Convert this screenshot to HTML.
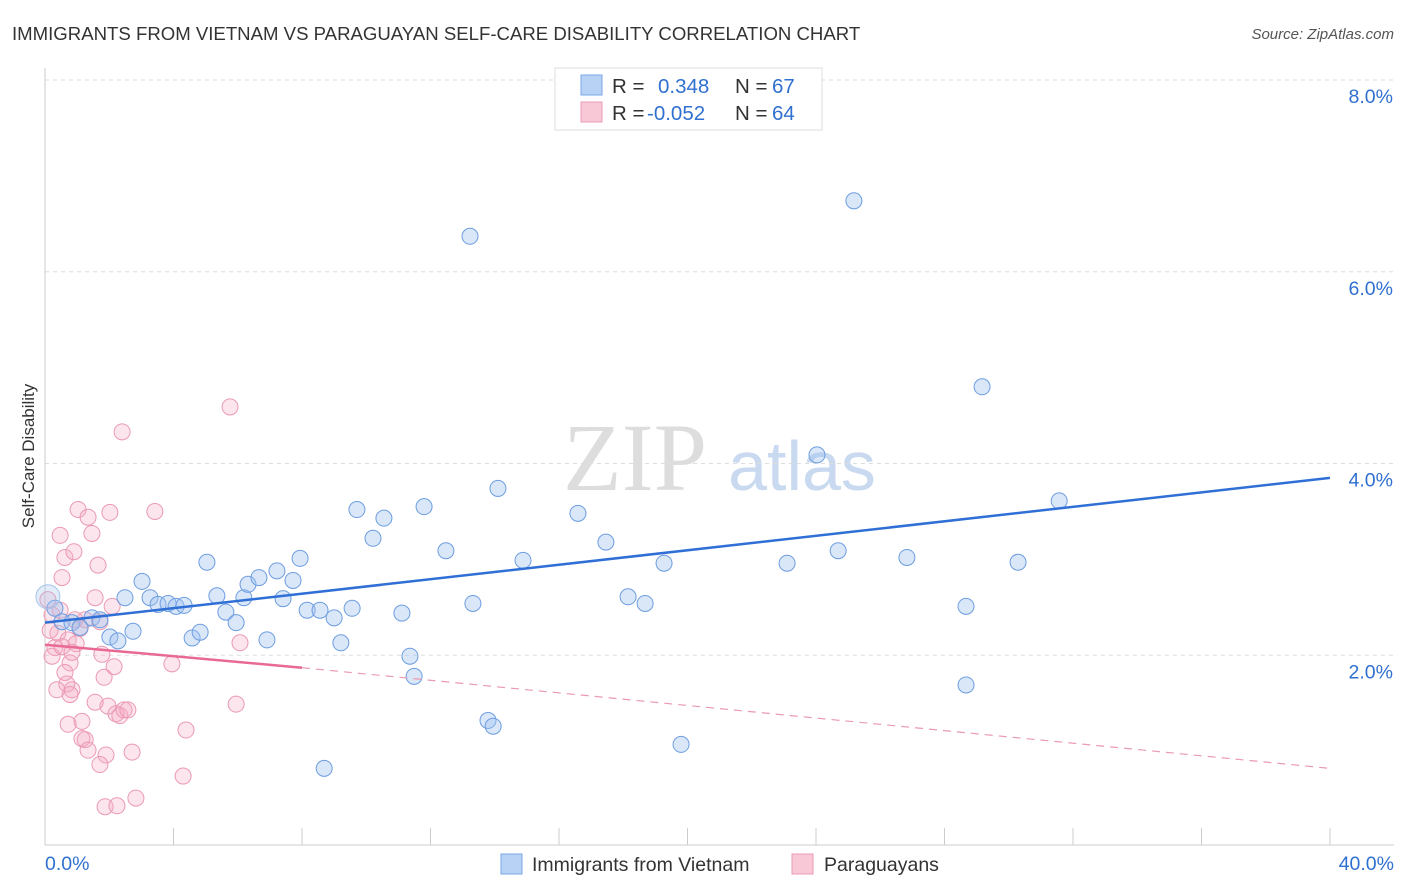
<!DOCTYPE html>
<html><head><meta charset="utf-8"><style>
body{margin:0;background:#fff;font-family:"Liberation Sans",sans-serif;}
svg{display:block}
</style></head><body>
<svg id="chart" width="1406" height="892" xmlns="http://www.w3.org/2000/svg">
<text x="12" y="40" font-size="18.6" fill="#333">IMMIGRANTS FROM VIETNAM VS PARAGUAYAN SELF-CARE DISABILITY CORRELATION CHART</text>
<text x="1394" y="39" font-size="15" fill="#555" font-style="italic" text-anchor="end">Source: ZipAtlas.com</text>
<text x="34" y="456" font-size="17" fill="#333" text-anchor="middle" transform="rotate(-90 34 456)">Self-Care Disability</text>
<g>
<text x="635" y="490" font-size="96" fill="#ddd" font-family="Liberation Serif,serif" text-anchor="middle">ZIP</text>
<text x="802" y="490" font-size="70" fill="#c8d9f0" text-anchor="middle">atlas</text>
</g>
<g id="grid"></g>
<g id="pts"></g>
<g id="lines"></g>
<g>
<rect x="555" y="68" width="267" height="62" fill="#fff" stroke="#ddd"/>
<rect x="581" y="75" width="21" height="20" fill="#b8d2f5" stroke="#7aa7e6"/>
<text x="612" y="93" font-size="20.5" fill="#333">R =</text>
<text x="658" y="93" font-size="20.5" fill="#3070d0">0.348</text>
<text x="735" y="93" font-size="20.5" fill="#333">N =</text>
<text x="772" y="93" font-size="20.5" fill="#3070d0">67</text>
<rect x="581" y="102" width="21" height="20" fill="#f8c8d6" stroke="#eb9ab3"/>
<text x="612" y="120" font-size="20.5" fill="#333">R =</text>
<text x="647" y="120" font-size="20.5" fill="#3070d0">-0.052</text>
<text x="735" y="120" font-size="20.5" fill="#333">N =</text>
<text x="772" y="120" font-size="20.5" fill="#3070d0">64</text>
</g>
<g>
<rect x="501" y="854" width="21" height="20" fill="#b8d2f5" stroke="#7aa7e6"/>
<text x="532" y="871" font-size="19.5" fill="#333">Immigrants from Vietnam</text>
<rect x="792" y="854" width="21" height="20" fill="#f8c8d6" stroke="#eb9ab3"/>
<text x="824" y="871" font-size="19.5" fill="#333">Paraguayans</text>
</g>
</svg>
<script>
const yTicks=[2,4,6,8];
const yTickLabels=["2.0%","4.0%","6.0%","8.0%"];
const xEndLabels=["0.0%","40.0%"];
const blueX=[0.31,0.53,0.84,1.09,1.46,1.71,2.02,2.27,2.49,2.74,3.02,3.27,3.52,3.83,4.08,4.33,4.58,4.83,5.04,5.35,5.63,5.95,6.19,6.32,6.66,6.91,7.22,7.41,7.72,7.94,8.16,8.56,9.00,9.21,9.56,9.71,10.21,10.55,11.11,11.36,11.49,11.80,12.48,13.23,13.32,13.79,13.95,14.10,14.88,16.59,17.46,18.15,18.68,19.27,19.80,23.10,24.03,24.69,25.18,26.83,28.67,28.67,29.17,30.29,31.57,8.69,0.09];
const blueY=[2.49,2.35,2.34,2.29,2.39,2.37,2.19,2.15,2.60,2.25,2.77,2.60,2.53,2.54,2.51,2.52,2.18,2.24,2.97,2.62,2.45,2.34,2.60,2.74,2.81,2.16,2.88,2.59,2.78,3.01,2.47,2.47,2.39,2.13,2.49,3.52,3.22,3.43,2.44,1.99,1.78,3.55,3.09,6.37,2.54,1.32,1.26,3.74,2.99,3.48,3.18,2.61,2.54,2.96,1.07,2.96,4.09,3.09,6.74,3.02,2.51,1.69,4.80,2.97,3.61,0.82,2.61];
const pinkX=[0.09,0.22,0.40,0.47,0.53,0.62,0.72,0.78,0.84,0.90,0.97,1.03,1.09,1.15,1.25,1.34,1.46,1.56,1.65,1.71,1.77,1.84,1.90,1.96,2.02,2.09,2.15,2.21,2.33,2.40,2.46,2.58,2.71,2.83,3.42,3.95,4.30,4.39,5.76,5.95,6.07,1.71,1.87,2.24,0.68,0.78,0.72,1.15,1.34,0.47,0.31,0.22,0.53,0.93,1.25,1.56,0.16,0.37,0.62,0.84];
const pinkY=[2.58,2.42,2.23,3.25,2.81,3.02,2.16,1.92,1.64,3.08,2.12,3.52,2.28,1.31,1.12,3.44,3.27,2.60,2.94,2.35,2.01,1.77,0.96,1.47,3.49,2.51,1.88,1.39,1.37,4.33,1.43,1.43,0.99,0.51,3.50,1.91,0.74,1.22,4.59,1.49,2.13,0.86,0.42,0.43,1.70,1.59,1.28,1.13,1.01,2.47,2.08,1.99,2.09,2.37,2.37,1.51,2.26,1.64,1.82,2.03];
const blueTrend=[[0,2.34],[40,3.85]];
const pinkTrend=[[0,2.11],[8.0,1.87],[40,0.82]];
const NS="http://www.w3.org/2000/svg";
const X=v=>45+v/40*1285, Y=v=>847-v/8*767;
function mk(tag,attrs,parent){const e=document.createElementNS(NS,tag);for(const k in attrs)e.setAttribute(k,attrs[k]);parent.appendChild(e);return e;}
const grid=document.getElementById('grid');
yTicks.forEach((t,i)=>{
 const l=mk('line',{x1:45,x2:1394,y1:Y(t),y2:Y(t),stroke:'#ddd','stroke-dasharray':'4,4'},grid);
 
 
 const tx=mk('text',{x:1393,y:Y(t)+23,'font-size':19.5,fill:'#3070d0','text-anchor':'end'},grid);
 tx.textContent=yTickLabels[i];
 
 
});
const ax=mk('line',{x1:45,x2:1394,y1:845,y2:845,stroke:'#ccc'},grid);


const ay=mk('line',{x1:45,x2:45,y1:68,y2:845,stroke:'#ccc'},grid);


for(let i=0;i<=10;i++){const t=mk('line',{x1:X(i*4),x2:X(i*4),y1:828,y2:845,stroke:'#ccc'},grid);
 
 }
[[0,'start',45],[40,'end',1394]].forEach((d,i)=>{const t=mk('text',{x:d[2],y:870,'font-size':19.5,fill:'#3070d0','text-anchor':d[1]},grid);t.textContent=xEndLabels[i];
 
 });
const pts=document.getElementById('pts');
pinkX.forEach((x,i)=>{const c=mk('circle',{cx:X(x),cy:Y(pinkY[i]),r:8,fill:'rgba(245,170,195,0.3)',stroke:'#eb9ab3','stroke-width':1},pts);
 
 });
blueX.forEach((x,i)=>{const big=i==blueX.length-1;const c=mk('circle',{cx:X(x),cy:Y(blueY[i]),r:big?12:8,fill:big?'rgba(160,195,240,0.3)':'rgba(160,195,240,0.4)',stroke:big?'#a8c4ec':'#6d9de0','stroke-width':1},pts);
 
 });
const lines=document.getElementById('lines');
const bl=mk('line',{x1:X(blueTrend[0][0]),y1:Y(blueTrend[0][1]),x2:X(blueTrend[1][0]),y2:Y(blueTrend[1][1]),stroke:'#2f6fd6','stroke-width':2.5},lines);


const ps=mk('line',{x1:X(pinkTrend[0][0]),y1:Y(pinkTrend[0][1]),x2:X(pinkTrend[1][0]),y2:Y(pinkTrend[1][1]),stroke:'#e86a94','stroke-width':2.5},lines);


const pd=mk('line',{x1:X(pinkTrend[1][0]),y1:Y(pinkTrend[1][1]),x2:X(pinkTrend[2][0]),y2:Y(pinkTrend[2][1]),stroke:'#eb9ab3','stroke-width':1.2,'stroke-dasharray':'8,6'},lines);


</script>
</body></html>
